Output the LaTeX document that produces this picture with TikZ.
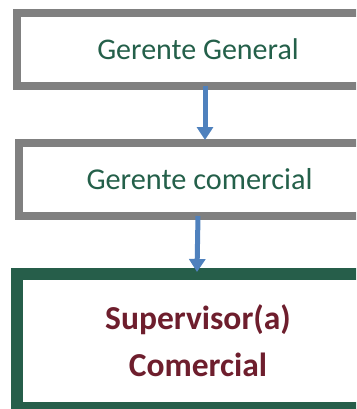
\documentclass[tikz,border=0pt]{standalone}
\usepackage{fontspec}
\setmainfont{Carlito}
\usetikzlibrary{arrows.meta}
\definecolor{boxgray}{HTML}{808080}
\definecolor{darkgreen}{HTML}{265E4A}
\definecolor{textgreen}{HTML}{24604A}
\definecolor{textred}{HTML}{6E1E2D}
\definecolor{arrowblue}{HTML}{4F81BD}
\begin{document}
\begin{tikzpicture}[x=1pt,y=-1pt,
    levelbox/.style={draw=boxgray,line width=8pt,fill=white,minimum width=362pt,minimum height=73pt,inner sep=0pt},
    levelarrow/.style={arrowblue,line width=5pt,-{Triangle[width=16pt,length=13pt]}}]
  \useasboundingbox (0,0) rectangle (356,409);
  \clip (0,0) rectangle (356,409);
  \node [levelbox,text=textgreen,font=\fontsize{30}{36}\selectfont] (gg) at (198,49.5) {Gerente General};
  \node [levelbox,text=textgreen,font=\fontsize{30.3}{36}\selectfont] (gc) at (199.5,179.5) {Gerente comercial};
  \node [draw=darkgreen,line width=12pt,fill=white,minimum width=362pt,minimum height=134pt,inner sep=0pt,
         align=center,text=textred,font=\bfseries\fontsize{33.5}{47}\selectfont] (sc) at (198,341) {Supervisor(a)\\Comercial};
  \draw [levelarrow] ([xshift=7pt,yshift=4pt]gg.south) -- ([xshift=5.5pt,yshift=-1pt]gc.north);
  \draw [levelarrow] ([xshift=-1.5pt,yshift=4pt]gc.south) -- ([xshift=-1pt,yshift=-4pt]sc.north);
\end{tikzpicture}
\end{document}
